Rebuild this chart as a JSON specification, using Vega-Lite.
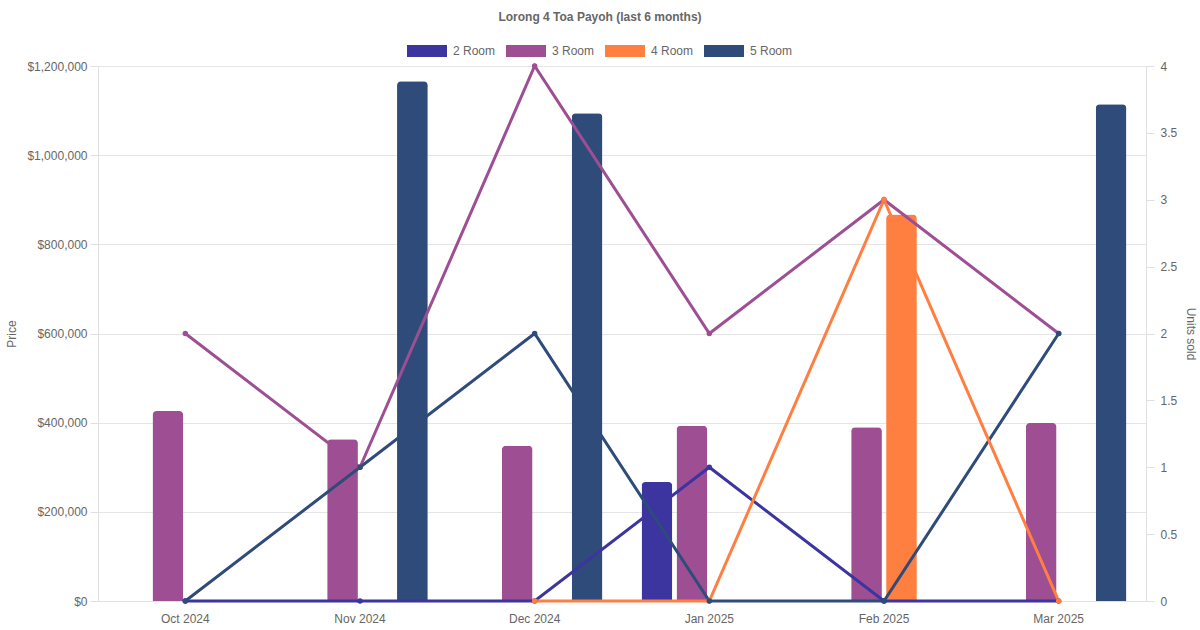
{
  "$schema": "https://vega.github.io/schema/vega-lite/v6.json",
  "autosize": {"type": "none"},
  "padding": {"left": 98, "top": 66, "right": 54, "bottom": 29},
  "width": 1048,
  "height": 535,
  "title": {
    "text": "Lorong 4 Toa Payoh (last 6 months)",
    "anchor": "middle",
    "dx": -22,
    "offset": 7,
    "font": "Liberation Sans",
    "fontSize": 12,
    "fontWeight": "bold",
    "color": "#666666"
  },
  "data": {
    "values": [
      {"month": "Oct 2024", "type": "2 Room", "price": null, "units": 0},
      {"month": "Oct 2024", "type": "3 Room", "price": 426000, "units": 2},
      {"month": "Oct 2024", "type": "4 Room", "price": null, "units": null},
      {"month": "Oct 2024", "type": "5 Room", "price": null, "units": 0},
      {"month": "Nov 2024", "type": "2 Room", "price": null, "units": 0},
      {"month": "Nov 2024", "type": "3 Room", "price": 363000, "units": 1},
      {"month": "Nov 2024", "type": "4 Room", "price": null, "units": null},
      {"month": "Nov 2024", "type": "5 Room", "price": 1166000, "units": 1},
      {"month": "Dec 2024", "type": "2 Room", "price": null, "units": 0},
      {"month": "Dec 2024", "type": "3 Room", "price": 348000, "units": 4},
      {"month": "Dec 2024", "type": "4 Room", "price": null, "units": 0},
      {"month": "Dec 2024", "type": "5 Room", "price": 1094000, "units": 2},
      {"month": "Jan 2025", "type": "2 Room", "price": 267000, "units": 1},
      {"month": "Jan 2025", "type": "3 Room", "price": 393000, "units": 2},
      {"month": "Jan 2025", "type": "4 Room", "price": null, "units": 0},
      {"month": "Jan 2025", "type": "5 Room", "price": null, "units": 0},
      {"month": "Feb 2025", "type": "2 Room", "price": null, "units": 0},
      {"month": "Feb 2025", "type": "3 Room", "price": 390000, "units": 3},
      {"month": "Feb 2025", "type": "4 Room", "price": 867000, "units": 3},
      {"month": "Feb 2025", "type": "5 Room", "price": null, "units": 0},
      {"month": "Mar 2025", "type": "2 Room", "price": null, "units": 0},
      {"month": "Mar 2025", "type": "3 Room", "price": 399000, "units": 2},
      {"month": "Mar 2025", "type": "4 Room", "price": null, "units": 0},
      {"month": "Mar 2025", "type": "5 Room", "price": 1114000, "units": 2}
    ]
  },
  "encoding": {
    "x": {
      "field": "month",
      "type": "nominal",
      "sort": ["Oct 2024", "Nov 2024", "Dec 2024", "Jan 2025", "Feb 2025", "Mar 2025"],
      "scale": {"paddingInner": 0.2, "paddingOuter": 0.1},
      "axis": {
        "title": null,
        "labelAngle": 0,
        "grid": false,
        "ticks": false,
        "labelPadding": 12,
        "domainColor": "#e0e0e0"
      }
    },
    "color": {
      "field": "type",
      "type": "nominal",
      "scale": {
        "domain": ["2 Room", "3 Room", "4 Room", "5 Room"],
        "range": ["#3c35a0", "#9e4f94", "#ff7f41", "#2e4b7a"]
      },
      "legend": {
        "title": null,
        "orient": "none",
        "direction": "horizontal",
        "legendX": 309,
        "legendY": -35,
        "symbolType": "M-1,-0.3H1V0.3H-1Z",
        "symbolSize": 1600,
        "symbolStrokeWidth": 0,
        "symbolOpacity": 1,
        "labelOffset": 6,
        "columnPadding": 10
      }
    }
  },
  "layer": [
    {
      "transform": [{"filter": "datum.price != null"}],
      "mark": {"type": "bar", "cornerRadiusTopLeft": 4, "cornerRadiusTopRight": 4},
      "encoding": {
        "xOffset": {
          "field": "type",
          "type": "nominal",
          "scale": {"domain": ["2 Room", "3 Room", "4 Room", "5 Room"], "paddingInner": 0.12, "paddingOuter": 0.06}
        },
        "y": {
          "field": "price",
          "type": "quantitative",
          "scale": {"domain": [0, 1200000], "nice": false},
          "axis": {
            "title": "Price",
            "values": [0, 200000, 400000, 600000, 800000, 1000000, 1200000],
            "format": "$,.0f",
            "tickSize": 8,
            "labelPadding": 3,
            "titlePadding": 8
          }
        }
      }
    },
    {
      "transform": [{"filter": "datum.units != null"}],
      "mark": {"type": "line", "strokeWidth": 3, "point": {"filled": true, "size": 30}},
      "encoding": {
        "y": {
          "field": "units",
          "type": "quantitative",
          "scale": {"domain": [0, 4], "nice": false},
          "axis": {
            "title": "Units sold",
            "orient": "right",
            "grid": false,
            "values": [0, 0.5, 1, 1.5, 2, 2.5, 3, 3.5, 4],
            "format": ".1~f",
            "tickSize": 8,
            "labelPadding": 6,
            "titlePadding": 7
          }
        }
      }
    }
  ],
  "resolve": {"scale": {"y": "independent"}},
  "config": {
    "view": {"stroke": null},
    "font": "Liberation Sans",
    "axis": {
      "labelFont": "Liberation Sans",
      "titleFont": "Liberation Sans",
      "labelFontSize": 12,
      "titleFontSize": 12,
      "titleFontWeight": "normal",
      "labelColor": "#666666",
      "titleColor": "#666666",
      "gridColor": "#e5e5e5",
      "domainColor": "#e0e0e0",
      "tickColor": "#e0e0e0"
    },
    "legend": {
      "labelFont": "Liberation Sans",
      "labelFontSize": 12,
      "labelColor": "#666666"
    }
  }
}
